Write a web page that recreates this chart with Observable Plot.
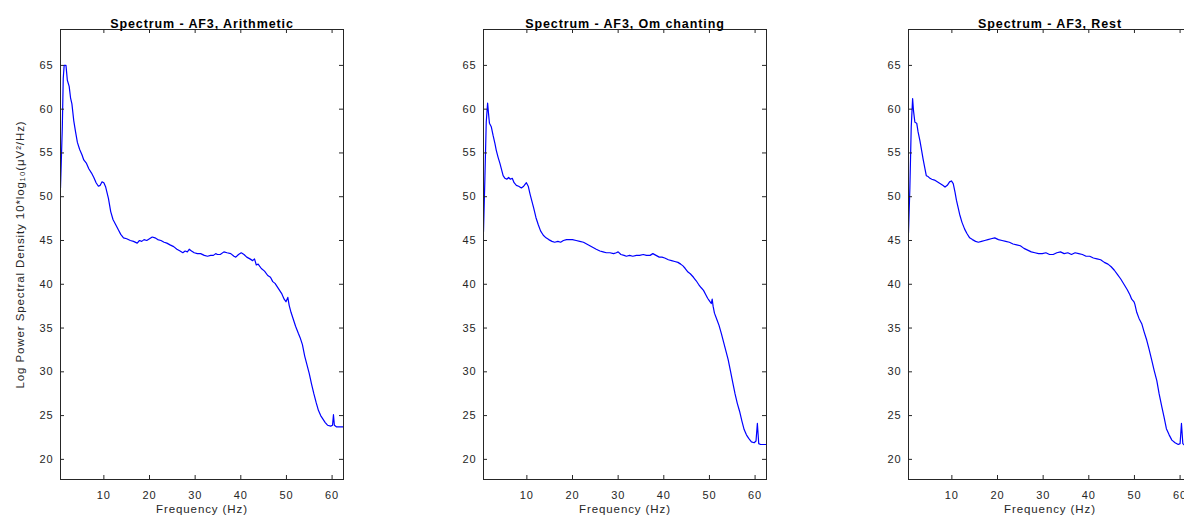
<!DOCTYPE html>
<html>
<head>
<meta charset="utf-8">
<script src="https://cdn.jsdelivr.net/npm/d3@7"></script>
<script src="https://cdn.jsdelivr.net/npm/@observablehq/plot@0.6"></script>
<style>
  html, body { margin: 0; padding: 0; background: #ffffff; }
  #root { position: relative; width: 1184px; height: 520px; overflow: hidden; background: #ffffff; }
  .panel { position: absolute; top: 0; width: 424px; height: 520px; }
  .panel svg { max-width: none !important; }
</style>
</head>
<body>
<div id="root"></div>
<script>
// ---- Data ----
const titles = ["Spectrum - AF3, Arithmetic", "Spectrum - AF3, Om chanting", "Spectrum - AF3, Rest"];
const xLabel = "Frequency (Hz)";
const yLabel = "Log Power Spectral Density 10*log₁₀(μV²/Hz)";
const xTicks = [10, 20, 30, 40, 50, 60];
const yTicks = [20, 25, 30, 35, 40, 45, 50, 55, 60, 65];
const xDomain = [0.5, 62.5];
const yDomain = [17.7, 69.1];

const arithFreq = [0.5,0.9,1.1,1.3,1.7,2.0,2.4,2.7,3.0,3.4,3.8,4.2,4.7,5.2,5.6,6.2,6.7,7.3,7.8,8.3,8.8,9.2,9.6,10.0,10.4,11.0,11.5,12.0,12.6,13.2,13.7,14.3,15.0,15.8,16.5,17.3,17.8,18.3,18.8,19.4,20.0,20.6,21.2,21.8,22.5,23.2,23.8,24.5,25.3,26.0,26.7,27.3,27.8,28.3,28.7,29.2,29.8,30.5,31.2,32.0,32.7,33.4,34.0,34.5,34.9,35.5,36.3,37.0,37.8,38.5,38.9,39.5,40.1,40.7,41.3,42.0,42.6,43.0,43.4,43.8,44.5,45.2,45.9,46.5,47.0,47.5,48.0,48.5,49.0,49.5,49.9,50.3,50.6,51.0,51.5,52.0,52.6,53.0,53.5,54.0,54.5,55.0,55.5,56.0,56.5,57.0,57.5,58.0,58.5,59.0,59.7,60.1,60.3,60.5,61.0,62.5];
const arithPsd = [51.0,58.0,63.5,65.0,65.0,63.3,62.6,61.3,60.6,58.7,57.4,56.2,55.4,54.8,54.2,53.8,53.2,52.7,52.2,51.6,51.2,51.3,51.7,51.6,51.1,49.8,48.3,47.4,46.8,46.2,45.7,45.3,45.2,45.0,44.9,44.7,45.0,44.9,45.1,45.0,45.2,45.4,45.3,45.1,45.0,44.8,44.7,44.5,44.3,44.0,43.8,43.6,43.8,43.7,44.0,43.8,43.6,43.5,43.5,43.3,43.2,43.3,43.3,43.5,43.4,43.4,43.7,43.6,43.5,43.2,43.1,43.4,43.6,43.4,43.1,42.9,42.7,42.9,42.2,42.3,41.8,41.5,41.0,40.8,40.3,40.1,39.7,39.3,38.9,38.3,38.0,38.5,37.6,36.8,36.0,35.2,34.4,33.9,33.1,31.8,30.8,29.8,28.6,27.5,26.5,25.6,25.0,24.6,24.2,23.9,23.8,23.9,25.1,23.9,23.7,23.7];

const omFreq = [0.5,0.8,1.1,1.4,1.6,1.8,2.2,2.6,3.0,3.3,3.7,4.1,4.5,4.8,5.2,5.6,6.0,6.4,6.8,7.2,7.7,8.2,8.8,9.3,9.9,10.3,10.7,11.1,11.5,12.0,12.5,13.0,13.6,14.2,14.8,15.5,16.1,16.8,17.4,18.0,18.7,19.4,20.0,20.8,21.6,22.4,23.1,23.8,24.5,25.2,26.0,26.7,27.4,28.2,29.0,29.6,30.0,30.6,31.3,31.8,32.5,33.2,34.0,34.7,35.5,36.2,37.0,37.6,38.3,39.0,39.6,40.2,41.0,41.7,42.4,43.1,43.7,44.2,44.7,45.3,45.8,46.5,47.1,47.6,48.2,48.7,49.2,49.6,50.0,50.4,50.6,50.8,51.1,51.6,52.1,52.6,53.1,53.6,54.1,54.6,55.1,55.6,56.1,56.6,57.1,57.6,58.1,58.6,59.2,59.8,60.2,60.5,60.8,61.2,62.5];
const omPsd = [46.0,52.0,58.5,60.7,59.5,58.4,58.0,57.0,56.1,55.3,54.5,53.8,53.0,52.4,52.1,52.0,52.2,52.0,52.1,51.6,51.3,51.2,51.0,51.2,51.6,51.2,50.3,49.5,48.7,47.6,46.8,46.1,45.6,45.3,45.1,44.9,44.8,44.9,44.8,45.0,45.1,45.1,45.1,45.0,44.9,44.8,44.6,44.4,44.2,44.0,43.8,43.7,43.6,43.6,43.5,43.6,43.7,43.4,43.3,43.2,43.3,43.2,43.3,43.3,43.4,43.3,43.3,43.5,43.3,43.1,43.1,43.0,42.8,42.7,42.6,42.5,42.3,42.1,41.8,41.4,41.2,40.8,40.4,40.0,39.6,39.3,38.8,38.4,38.1,37.8,38.3,37.5,36.7,36.0,35.3,34.4,33.4,32.4,31.4,30.1,28.8,27.5,26.4,25.5,24.4,23.4,22.8,22.4,22.0,21.9,22.1,24.1,21.8,21.7,21.7];

const restFreq = [0.5,0.8,1.1,1.4,1.6,1.9,2.3,2.6,3.0,3.4,3.7,4.1,4.4,4.8,5.2,5.6,6.2,6.8,7.4,8.0,8.5,9.0,9.5,9.9,10.3,10.7,11.0,11.4,11.7,12.2,12.8,13.3,13.9,14.5,15.2,15.8,16.5,17.2,17.9,18.6,19.4,20.2,21.0,21.8,22.6,23.4,24.2,25.0,25.8,26.6,27.4,28.2,29.0,29.8,30.6,31.4,32.2,33.0,33.8,34.6,35.4,36.2,37.0,37.8,38.6,39.4,40.2,41.0,41.8,42.6,43.4,44.2,44.9,45.6,46.3,47.0,47.7,48.4,49.0,49.4,49.9,50.1,50.5,51.0,51.6,52.1,52.7,53.2,53.8,54.3,54.9,55.4,56.0,56.5,57.0,57.6,58.2,58.9,59.6,60.0,60.3,60.6,61.0,62.5];
const restPsd = [45.9,51.0,58.0,61.2,59.8,58.5,58.4,57.4,56.4,55.2,54.3,53.2,52.4,52.3,52.1,52.0,51.9,51.7,51.5,51.3,51.1,51.3,51.7,51.8,51.5,50.5,49.6,48.7,48.0,47.1,46.3,45.8,45.3,45.1,44.9,44.8,44.9,45.0,45.1,45.2,45.3,45.1,45.0,44.9,44.8,44.6,44.5,44.4,44.1,43.9,43.7,43.6,43.5,43.5,43.6,43.4,43.4,43.6,43.7,43.5,43.6,43.4,43.6,43.5,43.4,43.2,43.2,43.0,42.9,42.8,42.5,42.3,42.0,41.6,41.1,40.6,40.0,39.4,38.8,38.3,38.0,37.7,36.8,36.1,35.5,34.6,33.6,32.6,31.3,30.2,29.0,27.5,26.0,24.8,23.5,22.8,22.2,21.9,21.7,21.8,24.1,21.8,21.6,21.6];

const freqs = [arithFreq, omFreq, restFreq];
const psds = [arithPsd, omPsd, restPsd];
const panelLefts = [0, 423, 848];

// ---- Drawing ----
const axisColor = "#262626";
const fontFamily = "'Liberation Sans', Arial, Helvetica, sans-serif";
const root = document.getElementById("root");
const frameW = 283, frameH = 450;

titles.forEach((title, i) => {
  const data = freqs[i].map((f, j) => ({f, v: psds[i][j]}));
  const marks = [
    Plot.line(data, {x: "f", y: "v", stroke: "#0000ff", strokeWidth: 1.2, clip: true}),
    Plot.frame({stroke: axisColor, strokeWidth: 1}),
    Plot.tickY(yTicks, {y: d => d, insetRight: frameW - 4, stroke: axisColor}),
    Plot.tickY(yTicks, {y: d => d, insetLeft: frameW - 4, stroke: axisColor}),
    Plot.tickX(xTicks, {x: d => d, insetTop: frameH - 4, stroke: axisColor}),
    Plot.tickX(xTicks, {x: d => d, insetBottom: frameH - 4, stroke: axisColor}),
    Plot.axisY({ticks: yTicks, tickSize: 0, tickPadding: 7, label: null, fill: axisColor}),
    Plot.axisX({ticks: xTicks, tickSize: 0, tickPadding: 12, label: null, fill: axisColor}),
    Plot.text([title], {text: d => d, frameAnchor: "top", dy: -10, fontWeight: "bold", fontSize: 12.5, fill: "#000000"}),
    Plot.text([xLabel], {text: d => d, frameAnchor: "bottom", dy: 33, fontSize: 11.5, fill: axisColor})
  ];
  if (i === 0) {
    marks.push(Plot.text([yLabel], {text: d => d, frameAnchor: "left", textAnchor: "middle", dx: -40, rotate: -90, fontSize: 11.5, fill: axisColor}));
  }
  const svg = Plot.plot({
    width: 424,
    height: 520,
    marginTop: 29,
    marginBottom: 41,
    marginLeft: 60,
    marginRight: 81,
    style: {fontFamily, fontSize: "11px", color: axisColor, background: "transparent", overflow: "visible", letterSpacing: "0.9px", maxWidth: "none"},
    x: {domain: xDomain, label: null},
    y: {domain: yDomain, label: null},
    marks
  });
  const wrap = document.createElement("div");
  wrap.className = "panel";
  wrap.style.left = panelLefts[i] + "px";
  wrap.appendChild(svg);
  root.appendChild(wrap);
});
</script>
</body>
</html>
